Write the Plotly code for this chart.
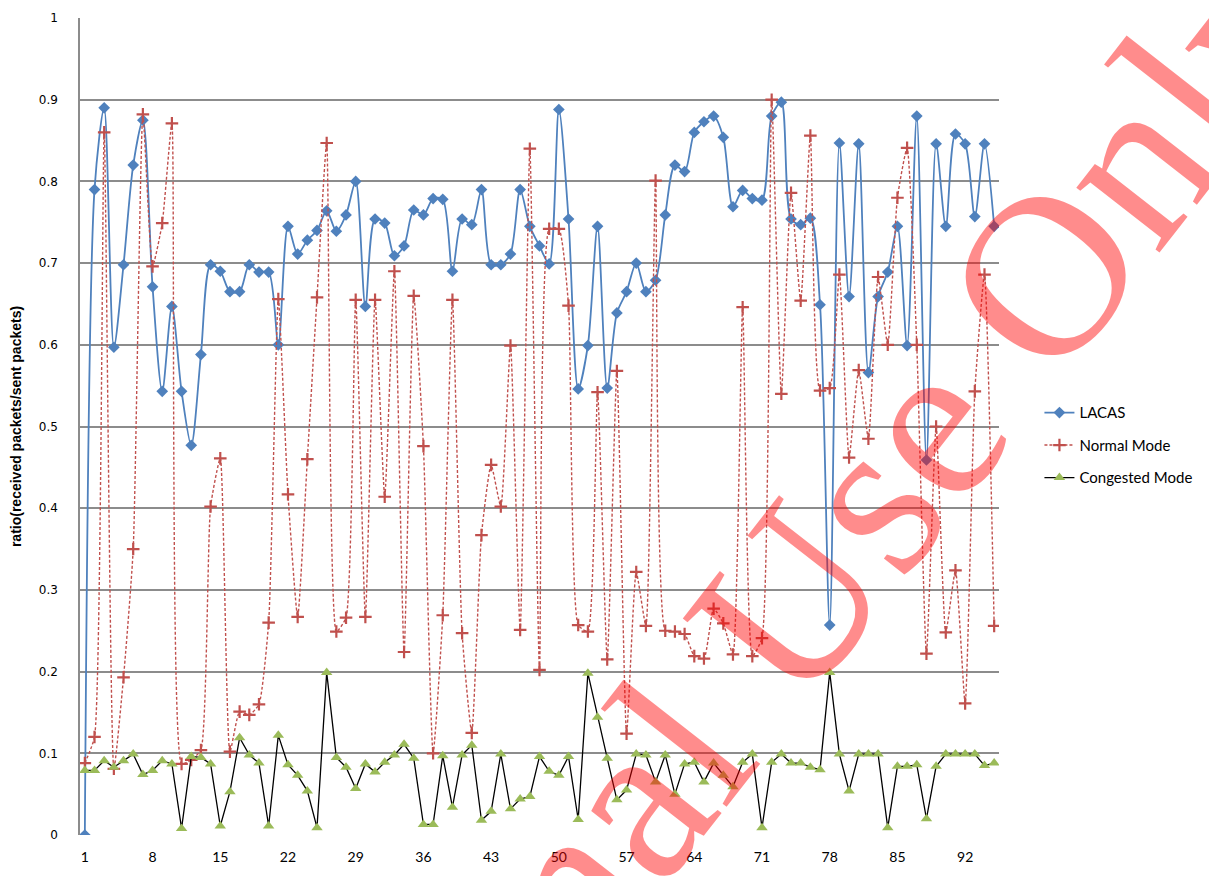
import plotly.graph_objects as go

# Sample index (1..95)
samples = list(range(1, 96))

lacas = [
    0.0, 0.79, 0.89, 0.597, 0.698, 0.82, 0.875, 0.671, 0.543, 0.647,
    0.543, 0.477, 0.588, 0.698, 0.69, 0.665, 0.665, 0.698, 0.689, 0.689,
    0.6, 0.745, 0.711, 0.728, 0.74, 0.764, 0.739, 0.759, 0.80, 0.647,
    0.754, 0.749, 0.709, 0.721, 0.765, 0.759, 0.779, 0.778, 0.69, 0.754,
    0.747, 0.79, 0.698, 0.698, 0.711, 0.79, 0.745, 0.721, 0.699, 0.888,
    0.754, 0.546, 0.599, 0.745, 0.547, 0.639, 0.665, 0.70, 0.665, 0.679,
    0.759, 0.82, 0.812, 0.86, 0.873, 0.88, 0.854, 0.769, 0.789, 0.779,
    0.777, 0.88, 0.897, 0.754, 0.747, 0.755, 0.649, 0.257, 0.847, 0.659,
    0.846, 0.566, 0.659, 0.689, 0.745, 0.599, 0.88, 0.459, 0.846, 0.745,
    0.858, 0.846, 0.757, 0.846, 0.745,
]

normal_mode = [
    0.088, 0.12, 0.86, 0.081, 0.193, 0.35, 0.882, 0.696, 0.749, 0.871,
    0.087, 0.092, 0.104, 0.402, 0.461, 0.102, 0.151, 0.147, 0.16, 0.26,
    0.656, 0.417, 0.267, 0.46, 0.658, 0.847, 0.249, 0.266, 0.655, 0.267,
    0.655, 0.414, 0.69, 0.224, 0.66, 0.476, 0.1, 0.269, 0.655, 0.247,
    0.125, 0.367, 0.453, 0.402, 0.599, 0.251, 0.84, 0.202, 0.742, 0.742,
    0.648, 0.257, 0.249, 0.542, 0.215, 0.568, 0.124, 0.322, 0.256, 0.801,
    0.25, 0.249, 0.246, 0.219, 0.216, 0.277, 0.259, 0.221, 0.646, 0.219,
    0.241, 0.9, 0.54, 0.786, 0.654, 0.856, 0.544, 0.547, 0.686, 0.462,
    0.569, 0.485, 0.683, 0.6, 0.78, 0.841, 0.6, 0.222, 0.5, 0.248,
    0.324, 0.161, 0.543, 0.686, 0.256,
]

congested_mode = [
    0.079, 0.079, 0.091, 0.083, 0.091, 0.099, 0.074, 0.079, 0.091, 0.087,
    0.008, 0.096, 0.095, 0.087, 0.011, 0.053, 0.119, 0.098, 0.088, 0.011,
    0.122, 0.086, 0.073, 0.054, 0.009, 0.199, 0.095, 0.083, 0.057, 0.087,
    0.077, 0.089, 0.098, 0.111, 0.094, 0.013, 0.013, 0.097, 0.034, 0.098,
    0.11, 0.018, 0.029, 0.099, 0.032, 0.044, 0.047, 0.096, 0.078, 0.073,
    0.096, 0.019, 0.198, 0.144, 0.094, 0.043, 0.055, 0.099, 0.098, 0.065,
    0.098, 0.05, 0.087, 0.089, 0.065, 0.088, 0.073, 0.059, 0.089, 0.099,
    0.009, 0.089, 0.099, 0.088, 0.088, 0.083, 0.08, 0.199, 0.099, 0.054,
    0.099, 0.099, 0.099, 0.009, 0.084, 0.084, 0.086, 0.02, 0.084, 0.099,
    0.099, 0.099, 0.099, 0.085, 0.088,
]

x_ticks = list(range(1, 96, 7))
y_ticks = [round(v * 0.1, 1) for v in range(0, 11)]
y_tick_text = ["0", "0.1", "0.2", "0.3", "0.4", "0.5", "0.6", "0.7", "0.8", "0.9", "1"]

fig = go.Figure()

fig.add_trace(go.Scatter(
    x=samples, y=lacas, name="LACAS", mode="lines+markers",
    line=dict(color="#4F81BD", width=1.8, shape="spline", smoothing=0.8),
    marker=dict(symbol="diamond", size=9, color="#4F81BD"),
    legendgroup="a",
))
fig.add_trace(go.Scatter(
    x=samples, y=normal_mode, name="Normal Mode", mode="lines+markers",
    line=dict(color="#C0504D", width=1.4, dash="3px,2px", shape="spline", smoothing=0.5),
    marker=dict(symbol="cross-thin", size=9, color="#C0504D",
                line=dict(color="#C0504D", width=2.2)),
    legendgroup="b",
))
fig.add_trace(go.Scatter(
    x=samples, y=congested_mode, name="Congested Mode", mode="lines+markers",
    line=dict(color="#000000", width=1.3),
    marker=dict(symbol="triangle-up", size=10, color="#9BBB59"),
    legendgroup="c",
))

fig.update_layout(
    width=1209, height=876,
    margin=dict(l=80, r=210, t=11, b=41),
    paper_bgcolor="white", plot_bgcolor="white",
    font=dict(family="Lato, Noto Sans, sans-serif", color="#000000"),
    legend=dict(
        x=1.044, y=0.477, xanchor="left", yanchor="middle",
        font=dict(family="Lato, Noto Sans, sans-serif", size=15, color="#000000"),
        tracegroupgap=10, bgcolor="rgba(0,0,0,0)",
    ),
    showlegend=True,
)

fig.update_xaxes(
    range=[0.5, 95.5], tickmode="array", tickvals=x_ticks,
    ticktext=[str(v) for v in x_ticks],
    showgrid=False, zeroline=False, showline=False,
    tickfont=dict(family="Lato, Noto Sans, sans-serif", size=14, color="#000000"),
    ticks="", ticklabelstandoff=12,
)
fig.update_yaxes(
    range=[0, 1], tickmode="array", tickvals=y_ticks, ticktext=y_tick_text,
    showgrid=True, gridcolor="#8C8C8C", gridwidth=1.5,
    zeroline=False, showline=True, linecolor="#8C8C8C", linewidth=1.5,
    tickfont=dict(family="DejaVu Sans, sans-serif", size=12, color="#000000"),
    ticks="", ticklabelstandoff=18,
    title=dict(text="<b>ratio(received packets/sent packets)</b>",
               font=dict(family="Liberation Sans Narrow, Liberation Sans, sans-serif", size=14),
               standoff=14),
)

# Diagonal watermark over the chart
fig.add_annotation(
    text="Internal Use Only", xref="paper", yref="paper",
    x=0.75, y=0.255, xanchor="center", yanchor="middle",
    showarrow=False, textangle=-52,
    font=dict(family="Liberation Serif, serif", size=230, color="rgba(255,0,0,0.45)"),
)

fig.write_html("out.html")
